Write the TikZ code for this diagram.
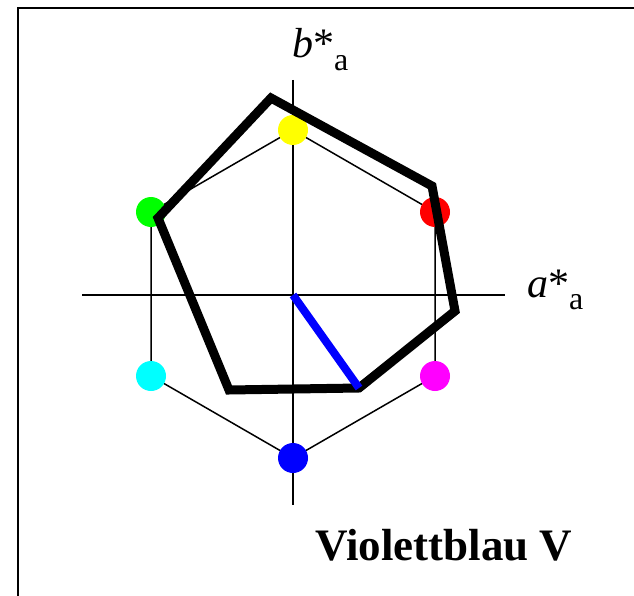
\documentclass[tikz,border=0pt]{standalone}
\usepackage{fontspec}
\setmainfont{Liberation Serif}
\usepackage{xcolor}
\usetikzlibrary{calc}
\definecolor{dotyellow}{RGB}{255,255,0}
\definecolor{dotred}{RGB}{255,0,0}
\definecolor{dotmagenta}{RGB}{255,0,255}
\definecolor{dotblue}{RGB}{0,0,255}
\definecolor{dotcyan}{RGB}{0,255,255}
\definecolor{dotgreen}{RGB}{0,255,0}

\begin{document}
\begin{tikzpicture}[x=1pt,y=-1pt,
    axis/.style={line width=2pt},
    hexline/.style={line width=1.5pt},
    dot/.style={circle,inner sep=0pt,minimum size=30pt},
    hull/.style={line width=9pt,line join=miter},
    label/.style={font=\fontsize{42}{46}\selectfont}]
    \useasboundingbox (0,0) rectangle (634,596);

    % frame
    \draw[line width=2pt] (18,596) -- (18,8) -- (634,8);

    % hexagon corners
    \coordinate (Y) at (293,130);
    \coordinate (R) at (435,212);
    \coordinate (M) at (435,376);
    \coordinate (B) at (293,458);
    \coordinate (C) at (151,376);
    \coordinate (G) at (151,212);
    \draw[hexline] (Y) -- (R) -- (M) -- (B) -- (C) -- (G) -- cycle;

    % axes
    \coordinate (O) at (293,295);
    \draw[axis] (82,295) coordinate (xl) -- (505,295) coordinate (xr);
    \draw[axis] (293,80) coordinate (yt) -- (293,505) coordinate (yb);
    \node[label,anchor=base west,inner sep=0pt] (alab) at (527,297)
        {\textit{a}*\raisebox{-0.3em}{\fontsize{32}{34}\selectfont a}};
    \node[label,anchor=base west,inner sep=0pt] (blab) at (292,58)
        {\textit{b}*\raisebox{-0.3em}{\fontsize{32}{34}\selectfont a}};

    % colour dots
    \node[dot,fill=dotyellow] (dY) at (Y) {};
    \node[dot,fill=dotred] (dR) at (R) {};
    \node[dot,fill=dotmagenta] (dM) at (M) {};
    \node[dot,fill=dotblue] (dB) at (B) {};
    \node[dot,fill=dotcyan] (dC) at (C) {};
    \node[dot,fill=dotgreen] (dG) at (G) {};

    % hue hull
    \draw[hull] (271,98) -- (432,186) -- (455,311) -- (359,388)
        -- (229,390) -- (158,218) -- cycle;

    % sample vector
    \draw[line width=8pt,dotblue] (O) -- (359,388);

    \node[anchor=base west,inner sep=0pt,font=\fontsize{45}{50}\selectfont\bfseries] (name)
        at (315,560) {Violettblau V};
\end{tikzpicture}
\end{document}
